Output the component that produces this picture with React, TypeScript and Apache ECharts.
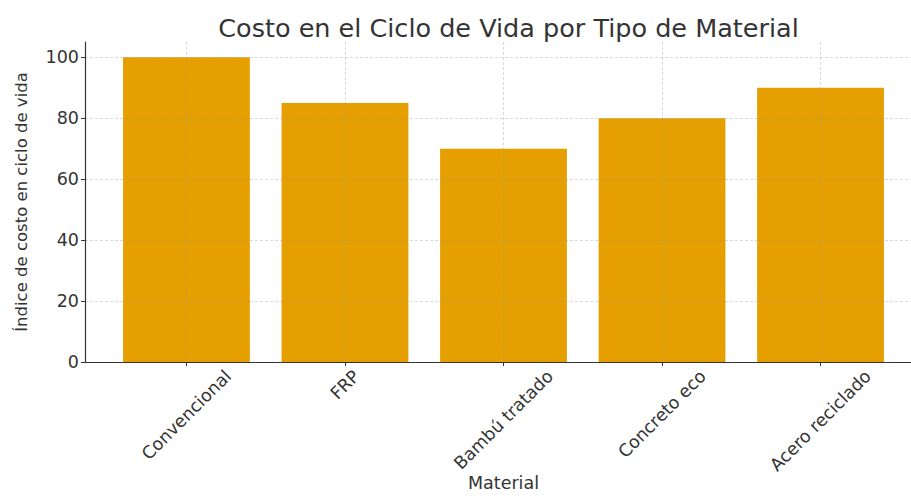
import React, { useEffect, useRef } from "react";
import * as echarts from "echarts";

const TITLE = "Costo en el Ciclo de Vida por Tipo de Material";
const X_NAME = "Material";
const Y_NAME = "Índice de costo en ciclo de vida";
const CATEGORIES = ["Convencional", "FRP", "Bambú tratado", "Concreto eco", "Acero reciclado"];
const VALUES = [100, 85, 70, 80, 90];
const Y_TICKS = [0, 20, 40, 60, 80, 100];
const X_POSITIONS = [0, 1, 2, 3, 4];

const FONT = '"DejaVu Sans", sans-serif';
const TICK_FS = 17.5;
const GRID_LEFT = 85;
const GRID_TOP = 42;
const GRID_W = 837;
const GRID_H = 320;
const X_MIN = -0.64;
const X_MAX = 4.64;

function measure(text: string, size: number): number {
  const c = document.createElement("canvas");
  const ctx = c.getContext("2d");
  if (!ctx) return text.length * size * 0.6;
  ctx.font = `${size}px "DejaVu Sans"`;
  return ctx.measureText(text).width;
}

export default function App() {
  const ref = useRef<HTMLDivElement>(null);
  useEffect(() => {
    if (!ref.current) return;
    const chart = echarts.init(ref.current, undefined, { renderer: "svg" });
    const rich: Record<string, any> = {};
    CATEGORIES.forEach((c, i) => {
      const L = measure(c, TICK_FS);
      const H = TICK_FS * 1.16;
      const p = (L + H) / 2;
      rich["c" + i] = {
        fontSize: TICK_FS,
        fontFamily: FONT,
        color: "#333",
        padding: [p, p, 0, 0],
      };
    });
    const unit = GRID_W / (X_MAX - X_MIN);
    const gridLine = {
      show: true,
      lineStyle: { color: "rgba(150,150,150,0.45)", width: 0.8, type: [3, 2] },
    };
    chart.setOption({
      animation: false,
      backgroundColor: "#fff",
      title: {
        text: TITLE,
        left: GRID_LEFT + GRID_W / 2,
        textAlign: "center",
        top: 10,
        textStyle: { fontFamily: FONT, fontSize: 25.5, fontWeight: "normal", color: "#333" },
      },
      grid: {
        left: GRID_LEFT,
        top: GRID_TOP,
        width: GRID_W,
        height: GRID_H,
        containLabel: false,
        outerBoundsMode: "none",
      },
      xAxis: {
        type: "value",
        min: X_MIN,
        max: X_MAX,
        z: 3,
        name: X_NAME,
        nameLocation: "middle",
        nameGap: 112,
        nameMoveOverlap: false,
        nameTextStyle: { fontFamily: FONT, fontSize: TICK_FS, color: "#333" },
        axisLine: { show: true, onZero: false, lineStyle: { color: "#333", width: 1.2 } },
        axisTick: { show: true, length: 4, customValues: X_POSITIONS, lineStyle: { color: "#333" } },
        axisLabel: {
          customValues: X_POSITIONS,
          rotate: 45,
          align: "center",
          verticalAlign: "middle",
          margin: 4,
          fontFamily: FONT,
          fontSize: TICK_FS,
          color: "#333",
          formatter: (v: number) => {
            const i = Math.round(v);
            return CATEGORIES[i] !== undefined ? `{c${i}|${CATEGORIES[i]}}` : "";
          },
          rich,
        },
        splitLine: gridLine,
      },
      yAxis: {
        type: "value",
        min: 0,
        max: 105,
        z: 3,
        name: Y_NAME,
        nameLocation: "middle",
        nameGap: 55,
        nameMoveOverlap: false,
        nameTextStyle: { fontFamily: FONT, fontSize: 16.5, color: "#333" },
        axisLine: { show: true, onZero: false, lineStyle: { color: "#333", width: 1.2 } },
        axisTick: { show: true, length: 4, customValues: Y_TICKS, lineStyle: { color: "#333" } },
        axisLabel: {
          customValues: Y_TICKS,
          margin: 6,
          fontFamily: FONT,
          fontSize: TICK_FS,
          color: "#333",
        },
        splitLine: gridLine,
      },
      series: [
        {
          type: "bar",
          data: VALUES.map((v, i) => [X_POSITIONS[i], v]),
          barWidth: unit * 0.8,
          itemStyle: { color: "#E69F00" },
        },
      ],
    });
    return () => chart.dispose();
  }, []);
  return (
    <div
      ref={ref}
      style={{ position: "fixed", left: 0, top: 0, width: 911, height: 496, background: "#fff" }}
    />
  );
}
